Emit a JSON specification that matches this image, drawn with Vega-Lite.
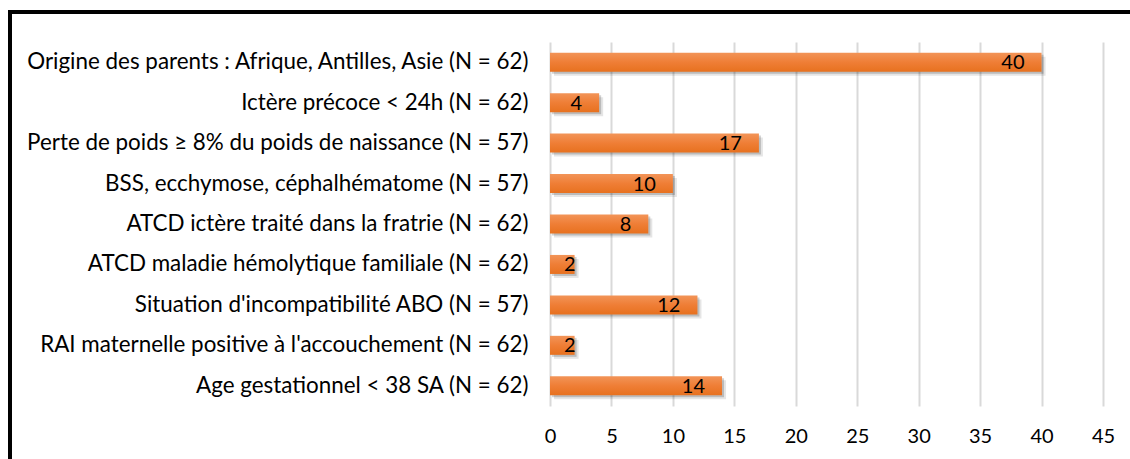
{
  "$schema": "https://vega.github.io/schema/vega-lite/v6.json",
  "autosize": {"type": "none"},
  "padding": {"left": 10, "top": 12, "right": -5, "bottom": -5},
  "width": 1125,
  "height": 452,
  "background": "white",
  "config": {
    "view": {"stroke": "black", "strokeWidth": 4},
    "font": "Lato"
  },
  "data": {
    "values": [
      {"label": "Origine des parents : Afrique, Antilles, Asie (N = 62)", "v": 40},
      {"label": "Ictère précoce < 24h (N = 62)", "v": 4},
      {"label": "Perte de poids ≥ 8% du poids de naissance (N = 57)", "v": 17},
      {"label": "BSS, ecchymose, céphalhématome (N = 57)", "v": 10},
      {"label": "ATCD ictère traité dans la fratrie (N = 62)", "v": 8},
      {"label": "ATCD maladie hémolytique familiale (N = 62)", "v": 2},
      {"label": "Situation d'incompatibilité ABO (N = 57)", "v": 12},
      {"label": "RAI maternelle positive à l'accouchement (N = 62)", "v": 2},
      {"label": "Age gestationnel < 38 SA (N = 62)", "v": 14}
    ]
  },
  "encoding": {
    "y": {
      "field": "label", "type": "nominal", "sort": null,
      "scale": {"range": [30, 394], "paddingInner": 0.53, "paddingOuter": 0.265},
      "axis": {
        "title": null, "offset": -540, "domain": false, "ticks": false,
        "labelPadding": 22, "labelLimit": 700, "labelFontSize": 22.4,
        "labelColor": "#000000", "labelFont": "Lato"
      }
    },
    "x": {
      "field": "v", "type": "quantitative",
      "scale": {"domain": [-43.942, 47.604], "nice": false, "zero": false},
      "axis": {
        "title": null, "orient": "top", "offset": -424, "domain": false, "ticks": false,
        "values": [0, 5, 10, 15, 20, 25, 30, 35, 40, 45],
        "grid": true, "gridColor": "#D9D9D9", "gridWidth": 2,
        "labelPadding": 0, "labelBaseline": "middle", "labelFontSize": 20, "labelColor": "#000000",
        "labelFont": "Lato", "labelFlush": false
      }
    }
  },
  "layer": [
    {"mark": {"type": "bar", "xOffset": 4, "yOffset": 4, "color": "#000000", "opacity": 0.1}},
    {"mark": {"type": "bar", "xOffset": 2, "yOffset": 2, "color": "#000000", "opacity": 0.18}},
    {
      "mark": {
        "type": "bar",
        "color": {
          "gradient": "linear", "x1": 0, "y1": 0, "x2": 0, "y2": 1,
          "stops": [
            {"offset": 0, "color": "#F29458"},
            {"offset": 0.5, "color": "#EF7E36"},
            {"offset": 1, "color": "#E7711F"}
          ]
        }
      }
    },
    {
      "transform": [{"filter": "datum.v >= 3"}],
      "mark": {"type": "text", "align": "right", "baseline": "middle", "dx": -17, "dy": 1, "fontSize": 20, "color": "#000000", "font": "Lato"},
      "encoding": {"text": {"field": "v", "type": "quantitative"}}
    },
    {
      "transform": [{"filter": "datum.v < 3"}],
      "mark": {"type": "text", "align": "right", "baseline": "middle", "dx": 1, "dy": 1, "fontSize": 20, "color": "#000000", "font": "Lato"},
      "encoding": {"text": {"field": "v", "type": "quantitative"}}
    }
  ]
}
